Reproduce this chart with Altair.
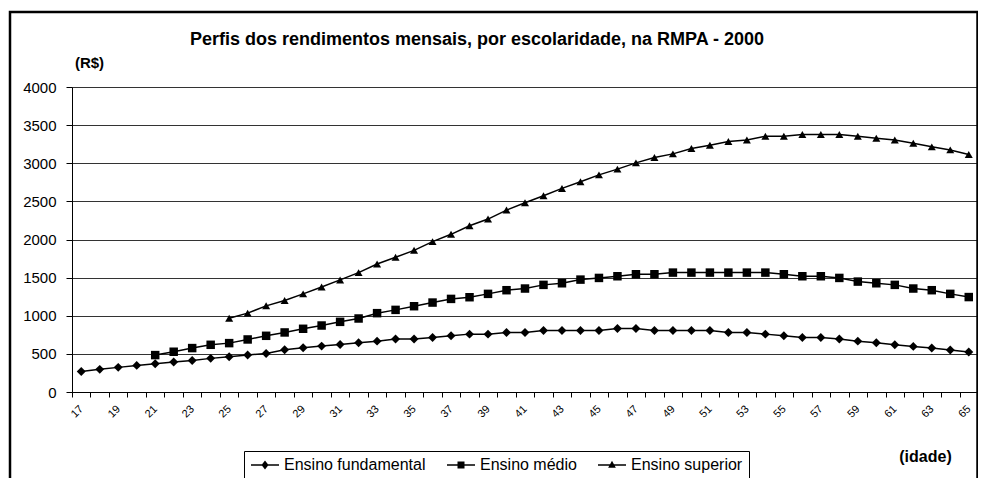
import altair as alt
import pandas as pd

FONT = "Liberation Sans"

idades = list(range(17, 66))

fundamental = [270, 297, 323, 349, 371, 393, 414, 441, 462, 484,
               506, 554, 580, 602, 624, 646, 667, 694, 694, 715,
               737, 759, 759, 781, 781, 807, 807, 807, 807, 833,
               833, 807, 807, 807, 807, 781, 781, 759, 737, 715,
               715, 694, 667, 646, 619, 598, 576, 550, 524]

medio_idades = list(range(21, 66))
medio = [484, 528, 576, 619, 641, 689, 737, 781, 829, 872,
         920, 964, 1034, 1077, 1125, 1173, 1221, 1243, 1287, 1335,
         1357, 1405, 1426, 1474, 1496, 1518, 1544, 1544, 1566, 1566,
         1566, 1566, 1566, 1566, 1544, 1518, 1518, 1496, 1448, 1426,
         1405, 1357, 1335, 1287, 1245]

superior_idades = list(range(25, 66))
superior = [968, 1034, 1130, 1200, 1287, 1378, 1470, 1566, 1679, 1767,
            1858, 1972, 2068, 2181, 2268, 2386, 2482, 2574, 2670, 2757,
            2848, 2923, 3005, 3075, 3123, 3193, 3237, 3285, 3306, 3354,
            3354, 3376, 3376, 3376, 3354, 3328, 3306, 3263, 3215, 3175,
            3115]

series = ["Ensino fundamental", "Ensino médio", "Ensino superior"]

rows = []
for a, v in zip(idades, fundamental):
    rows.append({"idade": a, "valor": v, "serie": series[0]})
for a, v in zip(medio_idades, medio):
    rows.append({"idade": a, "valor": v, "serie": series[1]})
for a, v in zip(superior_idades, superior):
    rows.append({"idade": a, "valor": v, "serie": series[2]})
df = pd.DataFrame(rows)

PLOT_W = 906
PLOT_H = 305

x_enc = alt.X(
    "idade:O",
    scale=alt.Scale(type="band", paddingInner=0, paddingOuter=0),
    axis=alt.Axis(
        tickBand="extent",
        labelAngle=-45,
        labelAlign="right",
        labelBaseline="middle",
        labelExpr="datum.value % 2 == 1 ? datum.label : ''",
        labelFontSize=11,
        labelFont=FONT,
        labelColor="black",
        labelOverlap=False,
        labelPadding=10,
        tickSize=5,
        tickColor="black",
        domainColor="black",
        grid=False,
        title="(idade)",
        titleFont=FONT,
        titleFontSize=16,
        titleFontWeight="bold",
        titleColor="black",
        titleAlign="center",
        titleBaseline="middle",
        titleX=853,
        titleY=64,
    ),
)

y_enc = alt.Y(
    "valor:Q",
    scale=alt.Scale(domain=[0, 4000], nice=False),
    axis=alt.Axis(
        values=list(range(0, 4001, 500)),
        format="d",
        tickSize=6,
        tickColor="black",
        domainColor="black",
        labelFontSize=15,
        labelFont=FONT,
        labelColor="black",
        labelPadding=10,
        gridColor="#333333",
        gridWidth=1,
        title="(R$)",
        titleAngle=0,
        titleFont=FONT,
        titleFontSize=15,
        titleFontWeight="bold",
        titleColor="black",
        titleAlign="center",
        titleBaseline="middle",
        titleX=17,
        titleY=-25,
    ),
)

lines = alt.Chart(df).mark_line(color="black", strokeWidth=1.5).encode(
    x=x_enc, y=y_enc, detail="serie:N"
)

points = alt.Chart(df).mark_point(filled=True, color="black", opacity=1).encode(
    x=x_enc,
    y=y_enc,
    shape=alt.Shape(
        "serie:N",
        scale=alt.Scale(domain=series, range=["diamond", "square", "triangle-up"]),
        legend=None,
    ),
    size=alt.Size(
        "serie:N",
        scale=alt.Scale(domain=series, range=[80, 64, 85]),
        legend=None,
    ),
)

# legend symbols: a short bar (line) with the marker in its middle (r = 7 px units)
BAR = "M-1,-0.1H3V0.1H-1Z"
legend_paths = [
    BAR + "M1,-0.65L1.5,0L1,0.65L0.5,0Z",
    BAR + "M0.5,-0.5H1.5V0.5H0.5Z",
    BAR + "M1,-0.6L1.55,0.4H0.45Z",
]

carrier = alt.Chart(df).mark_point(
    filled=True, color="black", opacity=0
).encode(
    x=x_enc,
    y=y_enc,
    shape=alt.Shape(
        "serie:N",
        scale=alt.Scale(domain=series, range=legend_paths),
        legend=alt.Legend(
            title=None,
            orient="none",
            legendX=172,
            legendY=364,
            direction="horizontal",
            symbolSize=196,
            symbolOpacity=1,
            symbolFillColor="black",
            symbolStrokeColor="black",
            labelFont=FONT,
            labelFontSize=16,
            labelColor="black",
            labelOffset=18,
            columnPadding=18,
            padding=6,
            strokeColor="black",
            fillColor="white",
            labelLimit=400,
        ),
    ),
)

frame_df = pd.DataFrame({"k": [0]})
frame = alt.Chart(frame_df).mark_rect(
    filled=False, stroke="black", strokeWidth=2.5
).encode(
    x=alt.value(-62),
    x2=alt.value(PLOT_W - 0.5),
    y=alt.value(-75),
    y2=alt.value(1000),
)

chart = (
    alt.layer(frame, lines, points, carrier)
    .resolve_scale(shape="independent", size="independent")
    .properties(
        width=PLOT_W,
        height=PLOT_H,
        autosize=alt.AutoSizeParams(type="none"),
        padding={"left": 64, "top": 79, "right": 0, "bottom": 86},
        title=alt.TitleParams(
            "Perfis dos rendimentos mensais, por escolaridade, na RMPA - 2000",
            font=FONT,
            fontSize=18,
            fontWeight="bold",
            color="black",
            anchor="middle",
            frame="group",
            dx=-48,
            dy=42,
        ),
        background="white",
    )
    .configure_view(stroke="#888888", strokeWidth=1)
)

chart.save("out.html", embed_options={"renderer": "svg", "actions": False})
